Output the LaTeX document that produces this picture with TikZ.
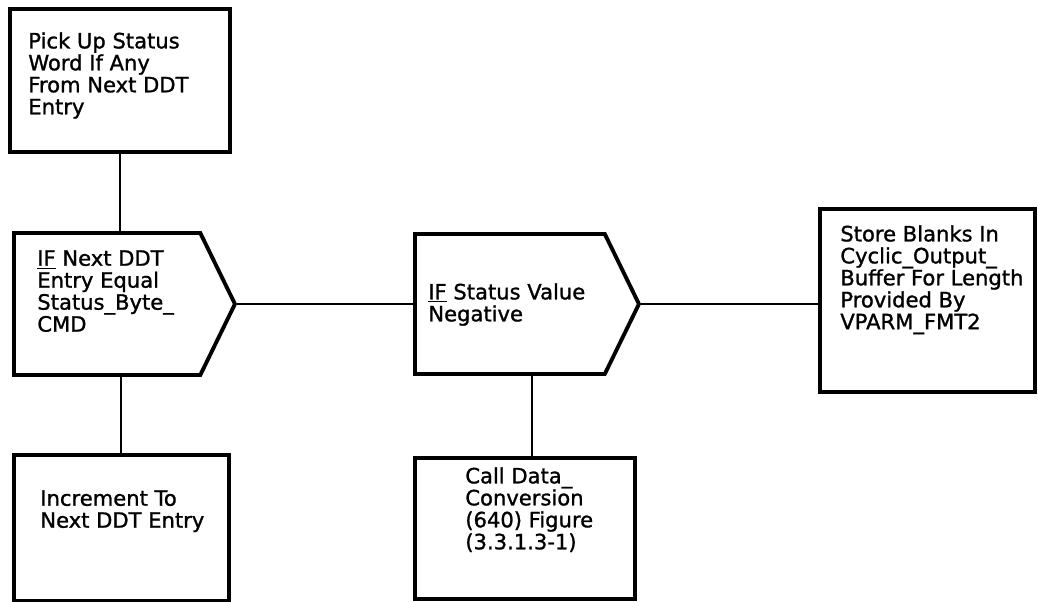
\documentclass[tikz,border=0pt]{standalone}
\usepackage{fontspec}
\setmainfont{DejaVu Sans}
\usetikzlibrary{shapes.symbols}

\tikzset{
    box/.style={draw,line width=2.2pt,rectangle,anchor=north west,inner sep=0pt},
    ifbox/.style={draw,line width=2.2pt,signal,signal to=east,signal from=nowhere,
        signal pointer angle=128,anchor=west,inner sep=0pt},
    txt/.style={anchor=north west,inner sep=0pt,align=left,
        font=\addfontfeatures{FakeBold=1.2}\fontsize{12}{12.5}\selectfont},
    link/.style={line width=1.1pt}
}

\begin{document}
\begin{tikzpicture}[x=0.2mm,y=-0.2mm]
        \useasboundingbox (0,0) rectangle (1038,601);
        % left column
        \node[box,minimum width=44mm,minimum height=28.6mm] (pick) at (8,7) {};
        \node[ifbox,minimum width=44.2mm,minimum height=28.4mm] (ifddt) at (12,304) {};
        \node[box,minimum width=43mm,minimum height=29.2mm] (incr) at (12,453) {};
        % middle column
        \node[ifbox,minimum width=44.8mm,minimum height=28mm] (ifneg) at (413,304) {};
        \node[box,minimum width=44mm,minimum height=28.2mm] (call) at (413,456) {};
        % right
        \node[box,minimum width=43mm,minimum height=36.6mm] (blank) at (818,207) {};
        % texts
        \node[txt] (pickt) at (28,32) {Pick Up Status\\Word If Any\\From Next DDT\\Entry};
        \node[txt] (ifddtt) at (37,250) {\underline{IF} Next DDT\\Entry Equal\\Status\_Byte\_\\CMD};
        \node[txt] (incrt) at (40,490) {Increment To\\Next DDT Entry};
        \node[txt] (ifnegt) at (428,283) {\underline{IF} Status Value\\Negative};
        \node[txt] (callt) at (465,467) {Call Data\_\\Conversion\\(640) Figure\\(3.3.1.3-1)};
        \node[txt] (blankt) at (840,225) {Store Blanks In\\Cyclic\_Output\_\\Buffer For Length\\Provided By\\VPARM\_FMT2};
        % connectors
        \draw[link] (pick.south) -- (pick.south |- ifddt.north);
        \draw[link] (incr.north |- ifddt.south) -- (incr.north);
        \draw[link] (ifddt.east) -- (ifddt.east -| ifneg.west);
        \draw[link] ([xshift=1.4mm]call.north |- ifneg.south) -- ([xshift=1.4mm]call.north);
        \draw[link] (ifneg.east) -- (ifneg.east -| blank.west);
    \end{tikzpicture}
\end{document}
